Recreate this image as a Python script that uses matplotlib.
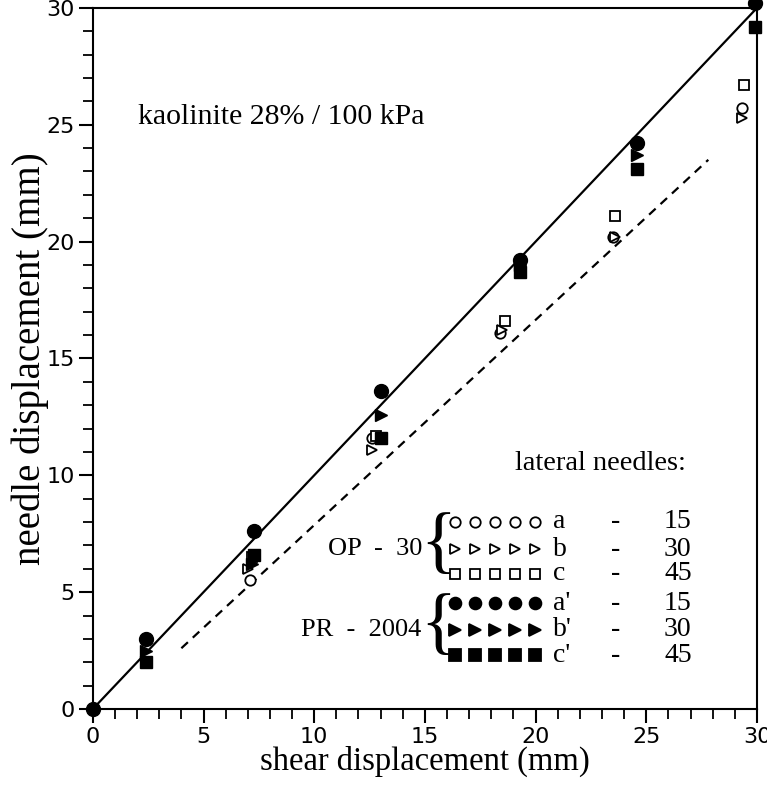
import matplotlib.pyplot as plt
from matplotlib.ticker import MultipleLocator

# OP-30 lateral needles (open symbols)
op_a_x = [7.1, 12.6, 18.4, 23.5, 29.3]
op_a_y = [5.5, 11.6, 16.1, 20.2, 25.7]
op_b_x = [7.0, 12.6, 18.5, 23.6, 29.3]
op_b_y = [6.0, 11.1, 16.2, 20.2, 25.3]
op_c_x = [7.2, 12.8, 18.6, 23.6, 29.4]
op_c_y = [6.5, 11.7, 16.6, 21.1, 26.7]

# PR-2004 lateral needles (filled symbols)
pr_a_x = [0.0, 2.4, 7.3, 13.0, 19.3, 24.6, 29.9]
pr_a_y = [0.0, 3.0, 7.6, 13.6, 19.2, 24.2, 30.2]
pr_b_x = [2.4, 7.2, 13.0, 19.3, 24.6]
pr_b_y = [2.5, 6.2, 12.6, 19.0, 23.7]
pr_c_x = [2.4, 7.3, 13.0, 19.3, 24.6, 29.9]
pr_c_y = [2.0, 6.6, 11.6, 18.7, 23.1, 29.2]

line_x = [0, 30]
line_y = [0, 30]
dash_x = [4.0, 27.8]
dash_y = [2.6, 23.5]

legend_sym = ["o", ">", "s", "o", ">", "s"]
legend_fill = ["white", "white", "white", "black", "black", "black"]
legend_name = ["a", "b", "c", "a'", "b'", "c'"]
legend_angle = ["15", "30", "45", "15", "30", "45"]

serif = "Liberation Serif"

fig = plt.figure(figsize=(7.67, 7.89), dpi=100)
ax = fig.add_axes([0.121, 0.1014, 0.866, 0.8886])

ax.plot(line_x, line_y, color="black", lw=1.6)
ax.plot(dash_x, dash_y, color="black", lw=1.6, ls=(0, (4, 3)))

ms_open = 7.5
ms_full = 9
ax.plot(op_a_x, op_a_y, "o", mfc="white", mec="black", mew=1.3, ms=ms_open, ls="none")
ax.plot(op_b_x, op_b_y, ">", mfc="white", mec="black", mew=1.3, ms=ms_open, ls="none")
ax.plot(op_c_x, op_c_y, "s", mfc="white", mec="black", mew=1.3, ms=ms_open - 1, ls="none")
ax.plot(pr_c_x, pr_c_y, "s", color="black", ms=ms_full - 1, ls="none", clip_on=False)
ax.plot(pr_b_x, pr_b_y, ">", color="black", ms=ms_full, ls="none")
ax.plot(pr_a_x, pr_a_y, "o", color="black", ms=ms_full + 1, ls="none", clip_on=False, zorder=5)

ax.set_xlim(0, 30)
ax.set_ylim(0, 30)
ax.xaxis.set_major_locator(MultipleLocator(5))
ax.yaxis.set_major_locator(MultipleLocator(5))
ax.xaxis.set_minor_locator(MultipleLocator(1))
ax.yaxis.set_minor_locator(MultipleLocator(1))
ax.tick_params(which="major", direction="out", length=10, width=1.5, labelsize=16, pad=3)
ax.tick_params(which="minor", direction="out", length=7, width=1.3)
for s in ax.spines.values():
    s.set_linewidth(1.5)

ax.set_xlabel("shear displacement (mm)", family=serif, fontsize=23.5, labelpad=-1)
ax.set_ylabel("needle displacement (mm)", family=serif, fontsize=28, labelpad=-2)

ax.text(0.068, 0.845, "kaolinite 28% / 100 kPa", transform=ax.transAxes,
        family=serif, fontsize=21.5, va="center")

# legend block
ax.text(0.635, 0.350, "lateral needles:", transform=ax.transAxes,
        family=serif, fontsize=20.5, va="center")
row_y = [0.267, 0.228, 0.193, 0.151, 0.113, 0.077]
for k, yy in enumerate(row_y):
    xs = [0.545 + 0.030 * i for i in range(5)]
    fc = legend_fill[k]
    ax.plot(xs, [yy] * 5, legend_sym[k], mfc=fc, mec="black", mew=1.3,
            ms=7.5 if fc == "white" else 8.5, transform=ax.transAxes, clip_on=False)
    ax.text(0.693, yy, legend_name[k], transform=ax.transAxes, family=serif, fontsize=20, va="center")
    ax.text(0.780, yy, "-", transform=ax.transAxes, family=serif, fontsize=20, va="center")
    ax.text(0.860, yy, legend_angle[k], transform=ax.transAxes, family=serif, fontsize=20, va="center")

ax.text(0.354, 0.228, "OP  -  30", transform=ax.transAxes, family=serif, fontsize=19, va="center")
ax.text(0.313, 0.113, "PR  -  2004", transform=ax.transAxes, family=serif, fontsize=19, va="center")
ax.text(0.493, 0.232, "{", transform=ax.transAxes, family=serif, fontsize=54, va="center")
ax.text(0.493, 0.117, "{", transform=ax.transAxes, family=serif, fontsize=54, va="center")

fig.savefig("out.png", dpi=100)
